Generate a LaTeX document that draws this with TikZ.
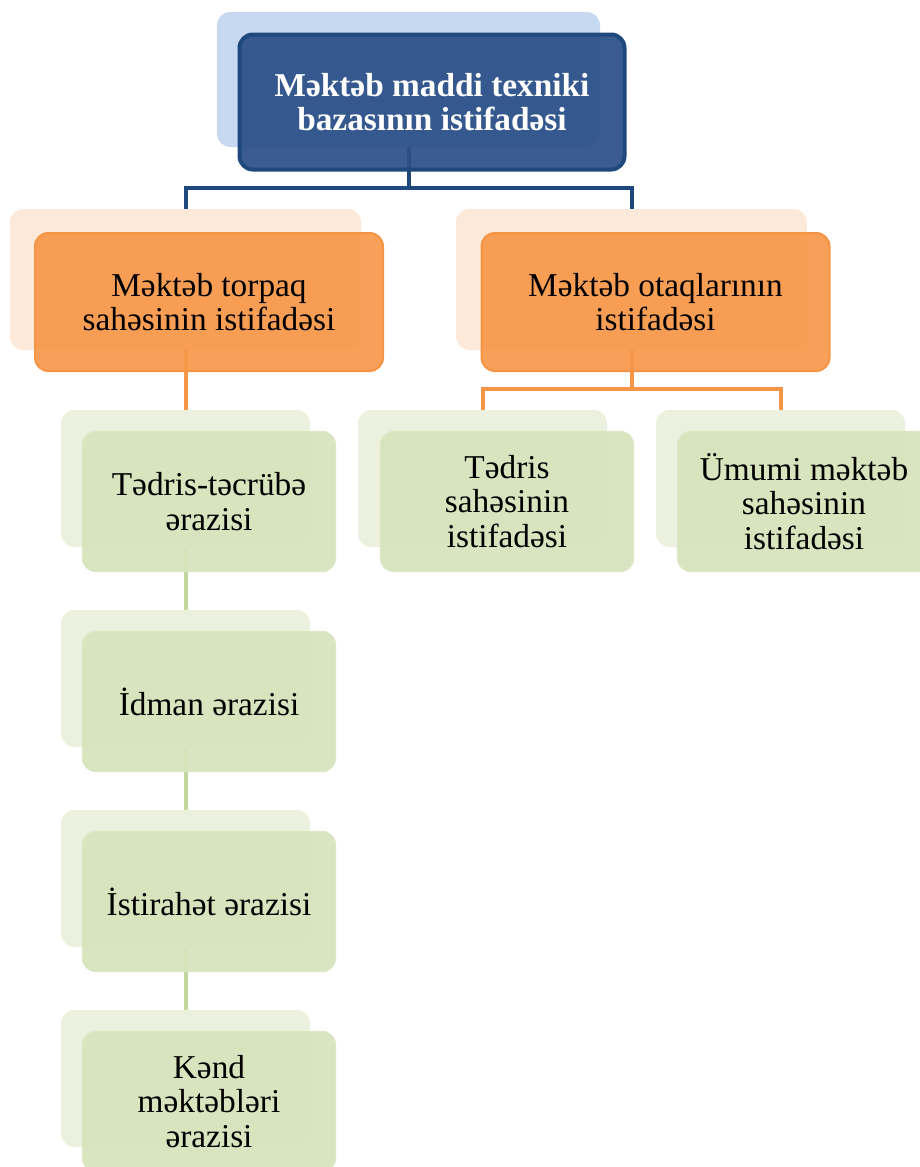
\documentclass[tikz,border=0pt]{standalone}
\usepackage{fontspec}
\setmainfont{Liberation Serif}
\begin{document}
\begin{tikzpicture}[x=0.75pt,y=-0.75pt,
  sz/.style 2 args={minimum width=#1*0.75pt, minimum height=#2*0.75pt, inner sep=0pt},
  card/.style={rounded corners=10pt, align=center, font=\fontsize{25}{26}\selectfont},
  bback/.style={card, fill=blueback, sz={383}{135}},
  bfront/.style={card, fill=bluefill, fill opacity=0.93, text opacity=1, draw=blueline, line width=3pt, sz={385}{135},
    text=white, font=\fontsize{25}{25}\selectfont\bfseries},
  oback/.style={card, fill=orangeback, sz={351}{141}},
  ofront/.style={card, fill=orangefill, fill opacity=0.9, text opacity=1, draw=orangeline, line width=1.5pt, sz={348}{138}},
  gback/.style={card, fill=greenback, sz={249}{137}},
  gfront/.style={card, fill=greenfill, fill opacity=0.95, text opacity=1, draw=greenedge, line width=1pt, sz={253}{140}},
  bconn/.style={draw=blueline, line width=3pt},
  oconn/.style={draw=orangefill, line width=3pt},
  gconn/.style={draw=greenline, line width=3pt}]

\definecolor{blueback}{HTML}{C6D9F1}
\definecolor{bluefill}{HTML}{2B5088}
\definecolor{blueline}{HTML}{1F497D}
\definecolor{orangeback}{HTML}{FDE9D9}
\definecolor{orangefill}{HTML}{F79646}
\definecolor{orangeline}{HTML}{F59444}
\definecolor{greenback}{HTML}{EBF1DE}
\definecolor{greenfill}{HTML}{D7E4BD}
\definecolor{greenedge}{HTML}{DCE8C4}
\definecolor{greenline}{HTML}{C3D69B}

\useasboundingbox (0,0) rectangle (920,1167);

% background cards
\node[bback] (topb) at (408.5,79.5) {};
\node[oback] (lob) at (185.5,279.5) {};
\node[oback] (rob) at (631.5,279.5) {};
\node[gback] (g1b) at (185.5,478.5) {};
\node[gback] (g2b) at (185.5,678.5) {};
\node[gback] (g3b) at (185.5,878.5) {};
\node[gback] (g4b) at (185.5,1078.5) {};
\node[gback] (g5b) at (482.5,478.5) {};
\node[gback] (g6b) at (780.5,478.5) {};

% junction points
\coordinate (j1) at (408.5,188);
\coordinate (j2) at (631.5,389);

% connectors
\draw[bconn] (topb.south) -- (j1) -| (lob.north);
\draw[bconn] (j1) -| (rob.north);
\draw[oconn] (lob.south) -- (g1b.north);
\draw[oconn] (rob.south) -- (j2) -| (g5b.north);
\draw[oconn] (j2) -| (g6b.north);
\draw[gconn] (g1b.south) -- (g2b.north);
\draw[gconn] (g2b.south) -- (g3b.north);
\draw[gconn] (g3b.south) -- (g4b.north);

% front cards
\node[bfront] (top) at (432,102) {Məktəb maddi texniki\\bazasının istifadəsi};
\node[ofront] (lo) at (209,302) {Məktəb torpaq\\sahəsinin istifadəsi};
\node[ofront] (ro) at (655.5,302) {Məktəb otaqlarının\\istifadəsi};
\node[gfront] (g1) at (209,501.5) {Tədris-təcrübə\\ərazisi};
\node[gfront] (g2) at (209,701.5) {İdman ərazisi};
\node[gfront] (g3) at (209,901.5) {İstirahət ərazisi};
\node[gfront] (g4) at (209,1101.5) {Kənd\\məktəbləri\\ərazisi};
\node[gfront] (g5) at (507,501.5) {Tədris\\sahəsinin\\istifadəsi};
\node[gfront] (g6) at (804,501.5) {Ümumi məktəb\\sahəsinin\\istifadəsi};
\end{tikzpicture}
\end{document}
